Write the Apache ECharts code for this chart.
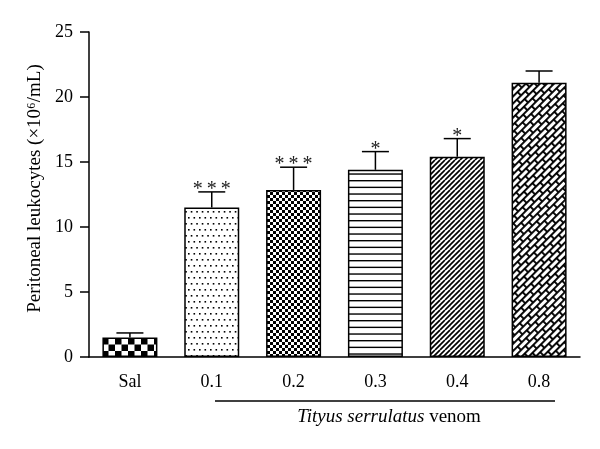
<!DOCTYPE html>
<html><head><meta charset="utf-8">
<script src="https://cdn.jsdelivr.net/npm/echarts@6/dist/echarts.min.js"></script>
<style>html,body{margin:0;padding:0;background:#fff}#c{width:600px;height:449px}</style>
</head><body><div id="c"></div>
<script>
const categories = ['Sal', '0.1', '0.2', '0.3', '0.4', '0.8'];
const means = [1.5, 11.5, 12.85, 14.4, 15.4, 21.1];
const errTops = [1.85, 12.7, 14.6, 15.8, 16.8, 22.0];
const stars = ['', '*\u2009*\u2009*', '*\u2009*\u2009*', '*', '*', ''];
const yTicks = [0, 5, 10, 15, 20, 25];
const yTitle = 'Peritoneal leukocytes (×10⁶/mL)';
const groupItalic = 'Tityus serrulatus';
const groupRest = ' venom';

const FONT = '"Liberation Serif", "DejaVu Serif", serif';

function tile(w, h, draw) {
  const c = document.createElement('canvas');
  c.width = w; c.height = h;
  const ctx = c.getContext('2d');
  ctx.fillStyle = '#fff'; ctx.fillRect(0, 0, w, h);
  ctx.fillStyle = '#000'; ctx.strokeStyle = '#000';
  draw(ctx, w, h);
  return c;
}
const patBigChecker = tile(13, 13, (g) => { g.fillRect(0,0,6.5,6.5); g.fillRect(6.5,6.5,6.5,6.5); });
const patDots = tile(11, 12, (g) => {
  g.fillRect(1,1,1.6,1.6); g.fillRect(6.5,1,1.6,1.6);
  g.fillRect(3.75,7,1.6,1.6); g.fillRect(9.25,7,1.6,1.6);
});
const patFineChecker = tile(6, 6, (g) => { g.fillRect(0,0,3,3); g.fillRect(3,3,3,3); });
const patHLines = tile(4, 20, (g) => { for (let k=0;k<3;k++) g.fillRect(0, k*6.667, 4, 1.4); });
const patDiag2 = tile(10, 10, (g) => {
  g.lineWidth = 1.7;
  for (let o=-10;o<=20;o+=5){ g.beginPath(); g.moveTo(o, 10); g.lineTo(o+10, 0); g.stroke(); }
});
const patBrick = tile(12, 10, (g) => {
  g.fillRect(0,0,12,1.9); g.fillRect(0,5,12,1.9);
  g.fillRect(0,0,1.9,5); g.fillRect(6,5,1.9,5);
});
const fills = [
  {image: patBigChecker, repeat: 'repeat', x: 102, y: 338},
  {image: patDots, repeat: 'repeat'},
  {image: patFineChecker, repeat: 'repeat'},
  {image: patHLines, repeat: 'repeat'},
  {image: patDiag2, repeat: 'repeat'},
  {image: patBrick, repeat: 'repeat', rotation: -Math.PI/4}
];

const chart = echarts.init(document.getElementById('c'), null, {renderer: 'canvas'});
chart.setOption({
  animation: false,
  backgroundColor: '#fff',
  grid: {left: 89, right: 20, top: 32, bottom: 92},
  xAxis: {
    type: 'category', data: categories,
    axisLine: {lineStyle: {color: '#000', width: 1.5}},
    axisTick: {alignWithLabel: true, length: 8, lineStyle: {color: '#000', width: 1.5}},
    axisLabel: {color: '#000', fontFamily: FONT, fontSize: 18, margin: 16}
  },
  yAxis: {
    type: 'value', min: yTicks[0], max: yTicks[yTicks.length-1], interval: 5,
    name: yTitle, nameLocation: 'middle', nameGap: 44,
    nameTextStyle: {color: '#000', fontFamily: FONT, fontSize: 19, padding: [0, 0, 0, 12]},
    splitLine: {show: false},
    axisLine: {show: true, lineStyle: {color: '#000', width: 1.5}},
    axisTick: {show: true, length: 9, lineStyle: {color: '#000', width: 1.5}},
    axisLabel: {color: '#000', fontFamily: FONT, fontSize: 18, margin: 16}
  },
  series: [
    {
      type: 'bar', barWidth: 55,
      data: means.map((v, i) => ({value: v, itemStyle: {color: fills[i]}})),
      itemStyle: {borderColor: '#000', borderWidth: 1.5}
    },
    {
      type: 'custom',
      data: means.map((v, i) => [i, v, errTops[i]]),
      z: 3,
      renderItem: function (params, api) {
        const i = api.value(0);
        const p0 = api.coord([i, api.value(1)]);
        const p1 = api.coord([i, api.value(2)]);
        const half = 13.5;
        const children = [
          {type: 'line', shape: {x1: p0[0], y1: p0[1], x2: p1[0], y2: p1[1]}, style: {stroke: '#000', lineWidth: 1.5}},
          {type: 'line', shape: {x1: p1[0]-half, y1: p1[1], x2: p1[0]+half, y2: p1[1]}, style: {stroke: '#000', lineWidth: 1.5}}
        ];
        const s = stars[params.dataIndex];
        if (s) {
          children.push({type: 'text', x: p1[0], y: p1[1] + 8,
            style: {text: s, fill: '#222', font: '20px ' + FONT, align: 'center', verticalAlign: 'bottom'}});
        }
        return {type: 'group', children: children};
      }
    }
  ],
  graphic: [
    {type: 'line', shape: {x1: 215, y1: 401, x2: 555, y2: 401}, style: {stroke: '#000', lineWidth: 1.5}},
    {type: 'text', x: 389, y: 417,
      style: {text: '{i|' + groupItalic + '}' + groupRest, align: 'center', verticalAlign: 'middle',
        fill: '#000', font: '19px ' + FONT,
        rich: {i: {fontStyle: 'italic', fontFamily: FONT, fontSize: 19, fill: '#000'}}}}
  ]
});
</script></body></html>
